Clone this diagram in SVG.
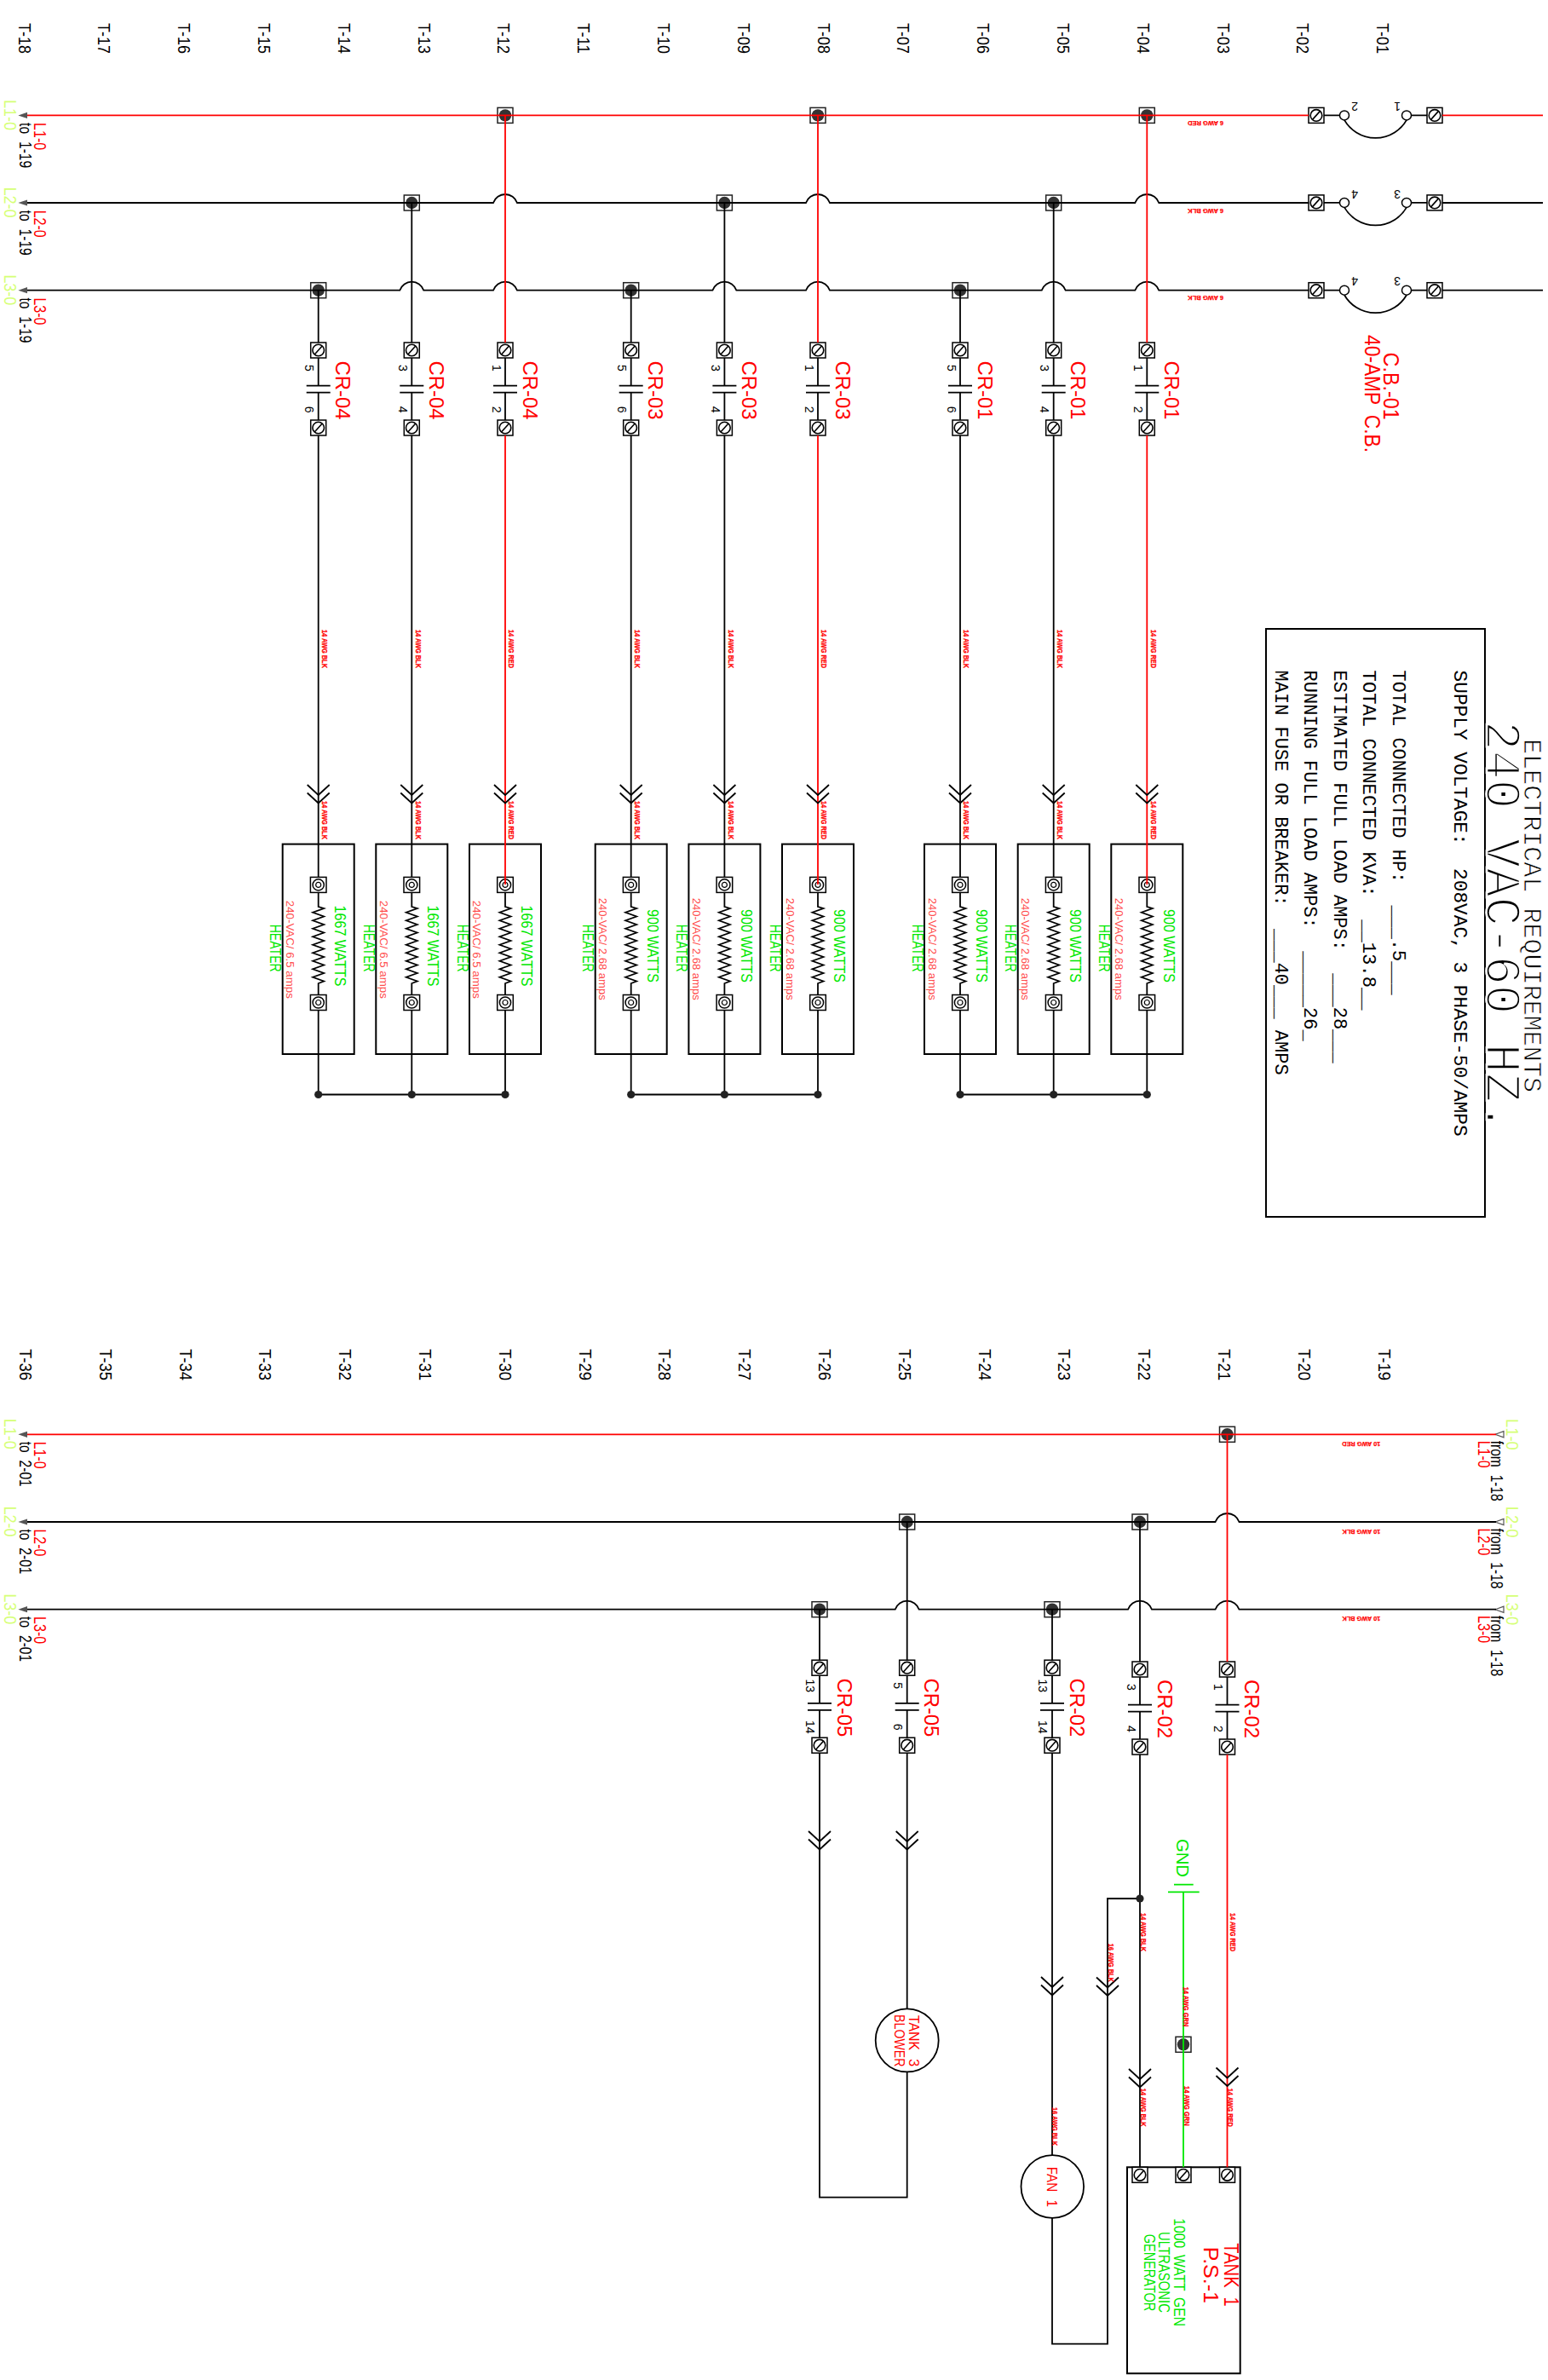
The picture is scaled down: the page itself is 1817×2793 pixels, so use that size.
<svg xmlns="http://www.w3.org/2000/svg" width="1817" height="2793" viewBox="0 0 1817 2793">
<style>
text{font-family:"Liberation Sans",Arial,sans-serif;white-space:pre}
.k{fill:none;stroke:#000;stroke-width:1.8}
.r{fill:none;stroke:#f00;stroke-width:1.8}
.g{fill:none;stroke:#00e800;stroke-width:1.8}
.box{fill:none;stroke:#000;stroke-width:2}
.t{font-size:21px;fill:#000}
.cr{font-size:24px;fill:#f00}
.n{font-size:14px;fill:#000;text-anchor:middle}
.w{font-size:9px;font-weight:bold;fill:#f00;stroke:#f00;stroke-width:.3}
.w6{font-size:8px;font-weight:bold;fill:#f00;stroke:#f00;stroke-width:.25}
.y{font-size:19.5px;fill:#d6ff77}
.lr{font-size:19.5px;fill:#f00}
.lk{font-size:20px;fill:#000;word-spacing:6px}
.wt{font-size:18px;fill:#00e800}
.am{font-size:13px;fill:#ff4d4d}
.m{font-family:"Liberation Mono","Courier New",monospace;font-size:22px;fill:#000}
.m1{font-family:"Liberation Mono","Courier New",monospace;font-size:30px;fill:#000;stroke:#fff;stroke-width:.8}
.m2{font-family:"Liberation Mono","Courier New",monospace;font-size:60px;fill:#000;stroke:#fff;stroke-width:2.6}
.big{font-size:25px;fill:#f00;word-spacing:6px}
.fan{font-size:17px;fill:#f00;word-spacing:6px}
.gg{font-size:17.7px;fill:#00e800;word-spacing:4px}
</style>
<defs>
<g id="tm"><rect x="-9" y="-9" width="18" height="18" fill="#fff" stroke="#000" stroke-width="1.5"/><circle r="6.8" fill="#fff" stroke="#000" stroke-width="1.6"/><path d="M-4.5 5L4.5-5" stroke="#000" stroke-width="1.6"/></g>
<g id="jn"><rect x="-9" y="-9" width="18" height="18" fill="#fff" stroke="#222" stroke-width="1.5"/><circle r="7.2" fill="#333"/></g>
<g id="ht"><rect x="-9.3" y="-9" width="18.6" height="18" fill="#fff" stroke="#000" stroke-width="1.5"/><circle r="6.6" fill="#fff" stroke="#000" stroke-width="1.5"/><circle r="3" fill="none" stroke="#000" stroke-width="1.2"/></g>
<g id="contact"><use href="#tm"/><use href="#tm" y="91"/><path class="k" d="M0 9V41.7M-14 41.7H14M-14 49.7H14M0 49.7V82"/></g>
<g id="heater"><use href="#ht" y="1038.4"/><use href="#ht" y="1176.5"/><path class="k" d="M0 1047.4V1064L6.5 1066l-13 4.75 13 4.75-13 4.75 13 4.75-13 4.75 13 4.75-13 4.75 13 4.75-13 4.75 13 4.75-13 4.75 13 4.75-13 4.75 13 4.75-13 4.75 13 4.75-13 4.75 13 4.75L0 1154V1167.5"/><rect class="box" x="-42" y="990.6" width="84" height="246.4"/></g>
<path id="chev" class="k" d="M-13 0L0 12 13 0M-13 9.5L0 21.5 13 9.5"/>
<g id="cbs"><circle cx="1578" r="5.5" fill="#fff" stroke="#000" stroke-width="1.5"/><circle cx="1651" r="5.5" fill="#fff" stroke="#000" stroke-width="1.5"/><path class="k" d="M1554 0H1572.5M1656.5 0H1675M1578 5.5A42.2 42.2 0 0 0 1651 5.5"/><use href="#tm" x="1545"/><use href="#tm" x="1684"/></g>
<path id="ar" d="M0 0L10.6-3.6V3.6Z" fill="#555"/>
<path id="ah" d="M0 0L10-3.6V3.6Z" fill="#fff" stroke="#555" stroke-width="1.2"/>
</defs>
<rect width="1817" height="2793" fill="#fff"/>

<g id="ladder-numbers">
<g transform="translate(0 27)">
<text class="t" transform="translate(21.5 0)rotate(90)" textLength="36" lengthAdjust="spacingAndGlyphs">T-18</text>
<text class="t" transform="translate(115.3 0)rotate(90)" textLength="36" lengthAdjust="spacingAndGlyphs">T-17</text>
<text class="t" transform="translate(209.1 0)rotate(90)" textLength="36" lengthAdjust="spacingAndGlyphs">T-16</text>
<text class="t" transform="translate(302.9 0)rotate(90)" textLength="36" lengthAdjust="spacingAndGlyphs">T-15</text>
<text class="t" transform="translate(396.7 0)rotate(90)" textLength="36" lengthAdjust="spacingAndGlyphs">T-14</text>
<text class="t" transform="translate(490.5 0)rotate(90)" textLength="36" lengthAdjust="spacingAndGlyphs">T-13</text>
<text class="t" transform="translate(584.3 0)rotate(90)" textLength="36" lengthAdjust="spacingAndGlyphs">T-12</text>
<text class="t" transform="translate(678.1 0)rotate(90)" textLength="36" lengthAdjust="spacingAndGlyphs">T-11</text>
<text class="t" transform="translate(771.9 0)rotate(90)" textLength="36" lengthAdjust="spacingAndGlyphs">T-10</text>
<text class="t" transform="translate(865.7 0)rotate(90)" textLength="36" lengthAdjust="spacingAndGlyphs">T-09</text>
<text class="t" transform="translate(959.5 0)rotate(90)" textLength="36" lengthAdjust="spacingAndGlyphs">T-08</text>
<text class="t" transform="translate(1053.3 0)rotate(90)" textLength="36" lengthAdjust="spacingAndGlyphs">T-07</text>
<text class="t" transform="translate(1147.1 0)rotate(90)" textLength="36" lengthAdjust="spacingAndGlyphs">T-06</text>
<text class="t" transform="translate(1240.9 0)rotate(90)" textLength="36" lengthAdjust="spacingAndGlyphs">T-05</text>
<text class="t" transform="translate(1334.7 0)rotate(90)" textLength="36" lengthAdjust="spacingAndGlyphs">T-04</text>
<text class="t" transform="translate(1428.5 0)rotate(90)" textLength="36" lengthAdjust="spacingAndGlyphs">T-03</text>
<text class="t" transform="translate(1522.3 0)rotate(90)" textLength="36" lengthAdjust="spacingAndGlyphs">T-02</text>
<text class="t" transform="translate(1616.1 0)rotate(90)" textLength="36" lengthAdjust="spacingAndGlyphs">T-01</text>
</g>
<g transform="translate(0 1583)">
<text class="t" transform="translate(22.9 0)rotate(90)" textLength="37" lengthAdjust="spacingAndGlyphs">T-36</text>
<text class="t" transform="translate(116.7 0)rotate(90)" textLength="37" lengthAdjust="spacingAndGlyphs">T-35</text>
<text class="t" transform="translate(210.5 0)rotate(90)" textLength="37" lengthAdjust="spacingAndGlyphs">T-34</text>
<text class="t" transform="translate(304.3 0)rotate(90)" textLength="37" lengthAdjust="spacingAndGlyphs">T-33</text>
<text class="t" transform="translate(398.1 0)rotate(90)" textLength="37" lengthAdjust="spacingAndGlyphs">T-32</text>
<text class="t" transform="translate(491.9 0)rotate(90)" textLength="37" lengthAdjust="spacingAndGlyphs">T-31</text>
<text class="t" transform="translate(585.7 0)rotate(90)" textLength="37" lengthAdjust="spacingAndGlyphs">T-30</text>
<text class="t" transform="translate(679.5 0)rotate(90)" textLength="37" lengthAdjust="spacingAndGlyphs">T-29</text>
<text class="t" transform="translate(773.3 0)rotate(90)" textLength="37" lengthAdjust="spacingAndGlyphs">T-28</text>
<text class="t" transform="translate(867.1 0)rotate(90)" textLength="37" lengthAdjust="spacingAndGlyphs">T-27</text>
<text class="t" transform="translate(960.9 0)rotate(90)" textLength="37" lengthAdjust="spacingAndGlyphs">T-26</text>
<text class="t" transform="translate(1054.7 0)rotate(90)" textLength="37" lengthAdjust="spacingAndGlyphs">T-25</text>
<text class="t" transform="translate(1148.5 0)rotate(90)" textLength="37" lengthAdjust="spacingAndGlyphs">T-24</text>
<text class="t" transform="translate(1242.3 0)rotate(90)" textLength="37" lengthAdjust="spacingAndGlyphs">T-23</text>
<text class="t" transform="translate(1336.1 0)rotate(90)" textLength="37" lengthAdjust="spacingAndGlyphs">T-22</text>
<text class="t" transform="translate(1429.9 0)rotate(90)" textLength="37" lengthAdjust="spacingAndGlyphs">T-21</text>
<text class="t" transform="translate(1523.7 0)rotate(90)" textLength="37" lengthAdjust="spacingAndGlyphs">T-20</text>
<text class="t" transform="translate(1617.5 0)rotate(90)" textLength="37" lengthAdjust="spacingAndGlyphs">T-19</text>
</g>
</g>

<g id="off-page-top-left">
<g id="off-L1-top" transform="translate(0 135.4)"><use href="#ar" x="21.4"/><text class="y" transform="translate(5-18.5)rotate(90)" textLength="36" lengthAdjust="spacingAndGlyphs">L1-0</text><text class="lk" transform="translate(23 8.7)rotate(90)" textLength="53" lengthAdjust="spacingAndGlyphs">to 1-19</text><text class="lr" transform="translate(40 8.7)rotate(90)" textLength="32" lengthAdjust="spacingAndGlyphs">L1-0</text></g>
<g id="off-L2-top" transform="translate(0 238)"><use href="#ar" x="21.4"/><text class="y" transform="translate(5-18.5)rotate(90)" textLength="36" lengthAdjust="spacingAndGlyphs">L2-0</text><text class="lk" transform="translate(23 8.7)rotate(90)" textLength="53" lengthAdjust="spacingAndGlyphs">to 1-19</text><text class="lr" transform="translate(40 8.7)rotate(90)" textLength="32" lengthAdjust="spacingAndGlyphs">L2-0</text></g>
<g id="off-L3-top" transform="translate(0 340.7)"><use href="#ar" x="21.4"/><text class="y" transform="translate(5-18.5)rotate(90)" textLength="36" lengthAdjust="spacingAndGlyphs">L3-0</text><text class="lk" transform="translate(23 8.7)rotate(90)" textLength="53" lengthAdjust="spacingAndGlyphs">to 1-19</text><text class="lr" transform="translate(40 8.7)rotate(90)" textLength="32" lengthAdjust="spacingAndGlyphs">L3-0</text></g>
<g id="off-L1-bot" transform="translate(0 1683.3)"><use href="#ar" x="21.4"/><text class="y" transform="translate(5-18.5)rotate(90)" textLength="36" lengthAdjust="spacingAndGlyphs">L1-0</text><text class="lk" transform="translate(23 8.4)rotate(90)" textLength="53" lengthAdjust="spacingAndGlyphs">to 2-01</text><text class="lr" transform="translate(40 8.4)rotate(90)" textLength="32" lengthAdjust="spacingAndGlyphs">L1-0</text></g>
<g id="off-L2-bot" transform="translate(0 1786)"><use href="#ar" x="21.4"/><text class="y" transform="translate(5-18.5)rotate(90)" textLength="36" lengthAdjust="spacingAndGlyphs">L2-0</text><text class="lk" transform="translate(23 8.4)rotate(90)" textLength="53" lengthAdjust="spacingAndGlyphs">to 2-01</text><text class="lr" transform="translate(40 8.4)rotate(90)" textLength="32" lengthAdjust="spacingAndGlyphs">L2-0</text></g>
<g id="off-L3-bot" transform="translate(0 1888.7)"><use href="#ar" x="21.4"/><text class="y" transform="translate(5-18.5)rotate(90)" textLength="36" lengthAdjust="spacingAndGlyphs">L3-0</text><text class="lk" transform="translate(23 8.4)rotate(90)" textLength="53" lengthAdjust="spacingAndGlyphs">to 2-01</text><text class="lr" transform="translate(40 8.4)rotate(90)" textLength="32" lengthAdjust="spacingAndGlyphs">L3-0</text></g>
<g id="off-L1-from" transform="translate(0 1683.3)"><use href="#ah" x="1755"/><text class="y" transform="translate(1768.4-18.3)rotate(90)" textLength="36.7" lengthAdjust="spacingAndGlyphs">L1-0</text><text class="lk" transform="translate(1750 7.4)rotate(90)" textLength="71" lengthAdjust="spacingAndGlyphs">from 1-18</text><text class="lr" transform="translate(1735.4 7.4)rotate(90)" textLength="32" lengthAdjust="spacingAndGlyphs">L1-0</text></g>
<g id="off-L2-from" transform="translate(0 1786)"><use href="#ah" x="1755"/><text class="y" transform="translate(1768.4-18.3)rotate(90)" textLength="36.7" lengthAdjust="spacingAndGlyphs">L2-0</text><text class="lk" transform="translate(1750 7.4)rotate(90)" textLength="71" lengthAdjust="spacingAndGlyphs">from 1-18</text><text class="lr" transform="translate(1735.4 7.4)rotate(90)" textLength="32" lengthAdjust="spacingAndGlyphs">L2-0</text></g>
<g id="off-L3-from" transform="translate(0 1888.7)"><use href="#ah" x="1755"/><text class="y" transform="translate(1768.4-18.3)rotate(90)" textLength="36.7" lengthAdjust="spacingAndGlyphs">L3-0</text><text class="lk" transform="translate(1750 7.4)rotate(90)" textLength="71" lengthAdjust="spacingAndGlyphs">from 1-18</text><text class="lr" transform="translate(1735.4 7.4)rotate(90)" textLength="32" lengthAdjust="spacingAndGlyphs">L3-0</text></g>
</g>

<g id="cb-01">
<g transform="translate(0 135.4)"><use href="#cbs"/><text class="n" transform="translate(1590-15.4)rotate(180)">2</text><text class="n" transform="translate(1640-15.4)rotate(180)">1</text></g>
<g transform="translate(0 237.9)"><use href="#cbs"/><text class="n" transform="translate(1590-15.4)rotate(180)">4</text><text class="n" transform="translate(1640-15.4)rotate(180)">3</text></g>
<g transform="translate(0 340.7)"><use href="#cbs"/><text class="n" transform="translate(1590-15.4)rotate(180)">4</text><text class="n" transform="translate(1640-15.4)rotate(180)">3</text></g>
<text class="big" transform="translate(1623.7 413.6)rotate(90)" textLength="79" lengthAdjust="spacingAndGlyphs">C.B.-01</text>
<text class="big" transform="translate(1602 393)rotate(90)" textLength="138" lengthAdjust="spacingAndGlyphs">40-AMP C.B.</text>
</g>

<g id="contacts-top">
<g id="cr-04-5-6" transform="translate(373.7 411)"><use href="#contact"/><text class="n" transform="translate(-15.5 21)rotate(90)">5</text><text class="n" transform="translate(-15.5 69.7)rotate(90)">6</text><text class="cr" transform="translate(20.5 12.5)rotate(90)" textLength="69" lengthAdjust="spacingAndGlyphs">CR-04</text></g>
<g id="cr-04-3-4" transform="translate(483.3 411)"><use href="#contact"/><text class="n" transform="translate(-15.5 21)rotate(90)">3</text><text class="n" transform="translate(-15.5 69.7)rotate(90)">4</text><text class="cr" transform="translate(20.5 12.5)rotate(90)" textLength="69" lengthAdjust="spacingAndGlyphs">CR-04</text></g>
<g id="cr-04-1-2" transform="translate(593 411)"><use href="#contact"/><text class="n" transform="translate(-15.5 21)rotate(90)">1</text><text class="n" transform="translate(-15.5 69.7)rotate(90)">2</text><text class="cr" transform="translate(20.5 12.5)rotate(90)" textLength="69" lengthAdjust="spacingAndGlyphs">CR-04</text></g>
<g id="cr-03-5-6" transform="translate(740.7 411)"><use href="#contact"/><text class="n" transform="translate(-15.5 21)rotate(90)">5</text><text class="n" transform="translate(-15.5 69.7)rotate(90)">6</text><text class="cr" transform="translate(20.5 12.5)rotate(90)" textLength="69" lengthAdjust="spacingAndGlyphs">CR-03</text></g>
<g id="cr-03-3-4" transform="translate(850.4 411)"><use href="#contact"/><text class="n" transform="translate(-15.5 21)rotate(90)">3</text><text class="n" transform="translate(-15.5 69.7)rotate(90)">4</text><text class="cr" transform="translate(20.5 12.5)rotate(90)" textLength="69" lengthAdjust="spacingAndGlyphs">CR-03</text></g>
<g id="cr-03-1-2" transform="translate(960 411)"><use href="#contact"/><text class="n" transform="translate(-15.5 21)rotate(90)">1</text><text class="n" transform="translate(-15.5 69.7)rotate(90)">2</text><text class="cr" transform="translate(20.5 12.5)rotate(90)" textLength="69" lengthAdjust="spacingAndGlyphs">CR-03</text></g>
<g id="cr-01-5-6" transform="translate(1127 411)"><use href="#contact"/><text class="n" transform="translate(-15.5 21)rotate(90)">5</text><text class="n" transform="translate(-15.5 69.7)rotate(90)">6</text><text class="cr" transform="translate(20.5 12.5)rotate(90)" textLength="69" lengthAdjust="spacingAndGlyphs">CR-01</text></g>
<g id="cr-01-3-4" transform="translate(1236.7 411)"><use href="#contact"/><text class="n" transform="translate(-15.5 21)rotate(90)">3</text><text class="n" transform="translate(-15.5 69.7)rotate(90)">4</text><text class="cr" transform="translate(20.5 12.5)rotate(90)" textLength="69" lengthAdjust="spacingAndGlyphs">CR-01</text></g>
<g id="cr-01-1-2" transform="translate(1346.3 411)"><use href="#contact"/><text class="n" transform="translate(-15.5 21)rotate(90)">1</text><text class="n" transform="translate(-15.5 69.7)rotate(90)">2</text><text class="cr" transform="translate(20.5 12.5)rotate(90)" textLength="69" lengthAdjust="spacingAndGlyphs">CR-01</text></g>
</g>

<g id="contacts-bottom">
<g id="cr-05-13-14" transform="translate(962 1957.2)"><use href="#contact"/><text class="n" transform="translate(-16 21)rotate(90)">13</text><text class="n" transform="translate(-16 69.5)rotate(90)">14</text><text class="cr" transform="translate(20.5 12.2)rotate(90)" textLength="69" lengthAdjust="spacingAndGlyphs">CR-05</text></g>
<g id="cr-05-5-6" transform="translate(1064.7 1957.2)"><use href="#contact"/><text class="n" transform="translate(-15.5 21)rotate(90)">5</text><text class="n" transform="translate(-15.5 69.5)rotate(90)">6</text><text class="cr" transform="translate(20.5 12.2)rotate(90)" textLength="69" lengthAdjust="spacingAndGlyphs">CR-05</text></g>
<g id="cr-02-13-14" transform="translate(1235 1957.2)"><use href="#contact"/><text class="n" transform="translate(-16 21)rotate(90)">13</text><text class="n" transform="translate(-16 69.5)rotate(90)">14</text><text class="cr" transform="translate(20.5 12.2)rotate(90)" textLength="69" lengthAdjust="spacingAndGlyphs">CR-02</text></g>
<g id="cr-02-3-4" transform="translate(1338 1959)"><use href="#contact"/><text class="n" transform="translate(-15.5 21)rotate(90)">3</text><text class="n" transform="translate(-15.5 70)rotate(90)">4</text><text class="cr" transform="translate(20.5 12)rotate(90)" textLength="69" lengthAdjust="spacingAndGlyphs">CR-02</text></g>
<g id="cr-02-1-2" transform="translate(1440.5 1959)"><use href="#contact"/><text class="n" transform="translate(-15.5 21)rotate(90)">1</text><text class="n" transform="translate(-15.5 70)rotate(90)">2</text><text class="cr" transform="translate(20.5 12)rotate(90)" textLength="69" lengthAdjust="spacingAndGlyphs">CR-02</text></g>
</g>

<g id="heaters">
<g id="heater-14" transform="translate(373.7 0)"><use href="#heater"/><text class="wt" transform="translate(18.8 1062.5)rotate(90)" textLength="95" lengthAdjust="spacingAndGlyphs">1667 WATTS</text><text class="am" transform="translate(-37.6 1056.8)rotate(90)" textLength="115" lengthAdjust="spacingAndGlyphs">240-VAC/ 6.5 amps</text><text class="wt" transform="translate(-56.3 1084.7)rotate(90)" textLength="56" lengthAdjust="spacingAndGlyphs">HEATER</text></g>
<g id="heater-13" transform="translate(483.3 0)"><use href="#heater"/><text class="wt" transform="translate(18.8 1062.5)rotate(90)" textLength="95" lengthAdjust="spacingAndGlyphs">1667 WATTS</text><text class="am" transform="translate(-37.6 1056.8)rotate(90)" textLength="115" lengthAdjust="spacingAndGlyphs">240-VAC/ 6.5 amps</text><text class="wt" transform="translate(-56.3 1084.7)rotate(90)" textLength="56" lengthAdjust="spacingAndGlyphs">HEATER</text></g>
<g id="heater-12" transform="translate(593 0)"><use href="#heater"/><text class="wt" transform="translate(18.8 1062.5)rotate(90)" textLength="95" lengthAdjust="spacingAndGlyphs">1667 WATTS</text><text class="am" transform="translate(-37.6 1056.8)rotate(90)" textLength="115" lengthAdjust="spacingAndGlyphs">240-VAC/ 6.5 amps</text><text class="wt" transform="translate(-56.3 1084.7)rotate(90)" textLength="56" lengthAdjust="spacingAndGlyphs">HEATER</text></g>
<g id="heater-10" transform="translate(740.7 0)"><use href="#heater"/><text class="wt" transform="translate(19.2 1067)rotate(90)" textLength="86" lengthAdjust="spacingAndGlyphs">900 WATTS</text><text class="am" transform="translate(-37.5 1053.7)rotate(90)" textLength="120" lengthAdjust="spacingAndGlyphs">240-VAC/ 2.68 amps</text><text class="wt" transform="translate(-56.3 1084.7)rotate(90)" textLength="56" lengthAdjust="spacingAndGlyphs">HEATER</text></g>
<g id="heater-09" transform="translate(850.4 0)"><use href="#heater"/><text class="wt" transform="translate(19.2 1067)rotate(90)" textLength="86" lengthAdjust="spacingAndGlyphs">900 WATTS</text><text class="am" transform="translate(-37.5 1053.7)rotate(90)" textLength="120" lengthAdjust="spacingAndGlyphs">240-VAC/ 2.68 amps</text><text class="wt" transform="translate(-56.3 1084.7)rotate(90)" textLength="56" lengthAdjust="spacingAndGlyphs">HEATER</text></g>
<g id="heater-08" transform="translate(960 0)"><use href="#heater"/><text class="wt" transform="translate(19.2 1067)rotate(90)" textLength="86" lengthAdjust="spacingAndGlyphs">900 WATTS</text><text class="am" transform="translate(-37.5 1053.7)rotate(90)" textLength="120" lengthAdjust="spacingAndGlyphs">240-VAC/ 2.68 amps</text><text class="wt" transform="translate(-56.3 1084.7)rotate(90)" textLength="56" lengthAdjust="spacingAndGlyphs">HEATER</text></g>
<g id="heater-06" transform="translate(1127 0)"><use href="#heater"/><text class="wt" transform="translate(19.2 1067)rotate(90)" textLength="86" lengthAdjust="spacingAndGlyphs">900 WATTS</text><text class="am" transform="translate(-37.5 1053.7)rotate(90)" textLength="120" lengthAdjust="spacingAndGlyphs">240-VAC/ 2.68 amps</text><text class="wt" transform="translate(-56.3 1084.7)rotate(90)" textLength="56" lengthAdjust="spacingAndGlyphs">HEATER</text></g>
<g id="heater-05" transform="translate(1236.7 0)"><use href="#heater"/><text class="wt" transform="translate(19.2 1067)rotate(90)" textLength="86" lengthAdjust="spacingAndGlyphs">900 WATTS</text><text class="am" transform="translate(-37.5 1053.7)rotate(90)" textLength="120" lengthAdjust="spacingAndGlyphs">240-VAC/ 2.68 amps</text><text class="wt" transform="translate(-56.3 1084.7)rotate(90)" textLength="56" lengthAdjust="spacingAndGlyphs">HEATER</text></g>
<g id="heater-04" transform="translate(1346.3 0)"><use href="#heater"/><text class="wt" transform="translate(19.2 1067)rotate(90)" textLength="86" lengthAdjust="spacingAndGlyphs">900 WATTS</text><text class="am" transform="translate(-37.5 1053.7)rotate(90)" textLength="120" lengthAdjust="spacingAndGlyphs">240-VAC/ 2.68 amps</text><text class="wt" transform="translate(-56.3 1084.7)rotate(90)" textLength="56" lengthAdjust="spacingAndGlyphs">HEATER</text></g>
</g>

<g id="electrical-requirements">
<rect class="box" x="1486" y="738" width="257" height="690"/>
<text class="m1" transform="translate(1789.3 867)rotate(90)" textLength="415" lengthAdjust="spacingAndGlyphs">ELECTRICAL REQUIREMENTS</text>
<text class="m2" transform="translate(1745 846)rotate(90)" textLength="482" lengthAdjust="spacingAndGlyphs">240 VAC-60 HZ.</text>
<text class="m" transform="translate(1707 786.6)rotate(90)" textLength="547" lengthAdjust="spacingAndGlyphs">SUPPLY VOLTAGE:  208VAC, 3 PHASE-50/AMPS</text>
<text class="m" transform="translate(1634.7 786.6)rotate(90)" textLength="381" lengthAdjust="spacingAndGlyphs">TOTAL CONNECTED HP:  ___.5___</text>
<text class="m" transform="translate(1600.3 786.6)rotate(90)" textLength="399" lengthAdjust="spacingAndGlyphs">TOTAL CONNECTED KVA:  __13.8__</text>
<text class="m" transform="translate(1566.3 786.6)rotate(90)" textLength="461" lengthAdjust="spacingAndGlyphs">ESTIMATED FULL LOAD AMPS:  ___28___</text>
<text class="m" transform="translate(1531.3 786.6)rotate(90)" textLength="435" lengthAdjust="spacingAndGlyphs">RUNNING FULL LOAD AMPS:  _____26_</text>
<text class="m" transform="translate(1497 786.6)rotate(90)" textLength="475" lengthAdjust="spacingAndGlyphs">MAIN FUSE OR BREAKER:  ___40___ AMPS</text>
</g>

<g id="tank-3-blower">
<circle cx="1064.7" cy="2394.4" r="37" fill="none" stroke="#000" stroke-width="1.8"/>
<text class="fan" transform="translate(1067 2365)rotate(90)" textLength="60" lengthAdjust="spacingAndGlyphs">TANK 3</text>
<text class="fan" transform="translate(1050 2364)rotate(90)" textLength="61.6" lengthAdjust="spacingAndGlyphs">BLOWER</text>
</g>
<g id="fan-1">
<circle cx="1235.3" cy="2566" r="36.8" fill="none" stroke="#000" stroke-width="1.8"/>
<text class="fan" transform="translate(1229 2542.7)rotate(90)" textLength="47.3" lengthAdjust="spacingAndGlyphs">FAN 1</text>
</g>
<g id="ps-1">
<rect class="box" x="1323" y="2543.3" width="132.7" height="242"/>
<use href="#tm" x="1338" y="2552.3"/><use href="#tm" x="1389" y="2552.3"/><use href="#tm" x="1440.5" y="2552.3"/>
<text class="big" style="font-size:23px" transform="translate(1436.7 2632.3)rotate(90)" textLength="74.4" lengthAdjust="spacingAndGlyphs">TANK 1</text>
<text class="big" style="font-size:23px" transform="translate(1413.4 2636.7)rotate(90)" textLength="66.3" lengthAdjust="spacingAndGlyphs">P.S.-1</text>
<text class="gg" transform="translate(1377.7 2603.3)rotate(90)" textLength="126.7" lengthAdjust="spacingAndGlyphs">1000 WATT GEN</text>
<text class="gg" transform="translate(1360.4 2619)rotate(90)" textLength="95" lengthAdjust="spacingAndGlyphs">ULTRASONIC</text>
<text class="gg" transform="translate(1342.7 2621.7)rotate(90)" textLength="90.6" lengthAdjust="spacingAndGlyphs">GENERATOR</text>
</g>
<g id="gnd">
<path class="g" d="M1378 2211.7H1400.7M1371 2220.3H1407.7"/>
<text class="t" style="fill:#00e800" transform="translate(1380.5 2158)rotate(90)" textLength="45" lengthAdjust="spacingAndGlyphs">GND</text>
</g>

<g id="junctions">
<use href="#jn" x="593" y="135.4"/><use href="#jn" x="960" y="135.4"/><use href="#jn" x="1346.3" y="135.4"/>
<use href="#jn" x="483.3" y="238"/><use href="#jn" x="850.4" y="238"/><use href="#jn" x="1236.7" y="238"/>
<use href="#jn" x="373.7" y="340.7"/><use href="#jn" x="740.7" y="340.7"/><use href="#jn" x="1127" y="340.7"/>
<use href="#jn" x="1440.5" y="1683.3"/><use href="#jn" x="1064.7" y="1786"/><use href="#jn" x="1338" y="1786"/>
<use href="#jn" x="962" y="1888.7"/><use href="#jn" x="1235" y="1888.7"/>
<use href="#jn" x="1389" y="2399.3"/>
</g>

<g id="connectors">
<path class="r" d="M32 135.4H1536M1693 135.4H1811"/>
<path class="k" d="M32 238H579a14.8 14.8 0 0 1 28 0H946a14.8 14.8 0 0 1 28 0H1332.3a14.8 14.8 0 0 1 28 0H1536M1693 238H1811"/>
<path class="k" d="M32 340.7H469.3a14.8 14.8 0 0 1 28 0H579a14.8 14.8 0 0 1 28 0H836.4a14.8 14.8 0 0 1 28 0H946a14.8 14.8 0 0 1 28 0H1222.7a14.8 14.8 0 0 1 28 0H1332.3a14.8 14.8 0 0 1 28 0H1536M1693 340.7H1811"/>
<path class="r" d="M32 1683.3H1756"/>
<path class="k" d="M32 1786H1426.5a14.8 14.8 0 0 1 28 0H1756"/>
<path class="k" d="M32 1888.7H1050.7a14.8 14.8 0 0 1 28 0H1324a14.8 14.8 0 0 1 28 0H1426.5a14.8 14.8 0 0 1 28 0H1756"/>
<path class="r" d="M593 135.4V402M593 511V1038M960 135.4V402M960 511V1038M1346.3 135.4V402M1346.3 511V1038M1440.5 1683.3V1950M1440.5 2059V2543.3"/>
<path class="k" d="M373.7 340.7V402M373.7 511V1029.4M373.7 1185.5V1284.5M483.3 238V402M483.3 511V1029.4M483.3 1185.5V1284.5M593 1185.5V1284.5M740.7 340.7V402M740.7 511V1029.4M740.7 1185.5V1284.5M850.4 238V402M850.4 511V1029.4M850.4 1185.5V1284.5M960 1185.5V1284.5M1127 340.7V402M1127 511V1029.4M1127 1185.5V1284.5M1236.7 238V402M1236.7 511V1029.4M1236.7 1185.5V1284.5M1346.3 1185.5V1284.5"/>
<path class="k" d="M373.7 1284.5H593M740.7 1284.5H960M1127 1284.5H1346.3"/>
<path class="k" d="M962 1888.7V1948.2M962 2057.2V2578.6H1064.7V2431.4M1064.7 2357.4V2057.2M1064.7 1948.2V1786M1235 1888.7V1948.2M1235 2057.2V2529.2M1235 2602.8V2750.7H1300V2228H1338M1338 1786V1950M1338 2059V2543.3"/>
<path class="g" d="M1389 2220.3V2543.3"/>
<g fill="#222"><circle cx="373.7" cy="1284.5" r="4.6"/><circle cx="483.3" cy="1284.5" r="4.6"/><circle cx="593" cy="1284.5" r="4.6"/><circle cx="740.7" cy="1284.5" r="4.6"/><circle cx="850.4" cy="1284.5" r="4.6"/><circle cx="960" cy="1284.5" r="4.6"/><circle cx="1127" cy="1284.5" r="4.6"/><circle cx="1236.7" cy="1284.5" r="4.6"/><circle cx="1346.3" cy="1284.5" r="4.6"/><circle cx="1338" cy="2228" r="4.6"/></g>
<use href="#chev" x="373.7" y="921"/><use href="#chev" x="483.3" y="921"/><use href="#chev" x="593" y="921"/><use href="#chev" x="740.7" y="921"/><use href="#chev" x="850.4" y="921"/><use href="#chev" x="960" y="921"/><use href="#chev" x="1127" y="921"/><use href="#chev" x="1236.7" y="921"/><use href="#chev" x="1346.3" y="921"/>
<use href="#chev" x="962" y="2149"/><use href="#chev" x="1064.7" y="2149"/><use href="#chev" x="1235" y="2320"/><use href="#chev" x="1300" y="2320.5"/><use href="#chev" x="1338" y="2428"/><use href="#chev" x="1440.5" y="2426.5"/>

<g id="wire-labels">
<text class="w6" transform="translate(1436 142)rotate(180)" textLength="42" lengthAdjust="spacingAndGlyphs">6 AWG RED</text>
<text class="w6" transform="translate(1436 244.5)rotate(180)" textLength="42" lengthAdjust="spacingAndGlyphs">6 AWG BLK</text>
<text class="w6" transform="translate(1436 347)rotate(180)" textLength="42" lengthAdjust="spacingAndGlyphs">6 AWG BLK</text>
<text class="w6" transform="translate(1620.3 1692)rotate(180)" textLength="45" lengthAdjust="spacingAndGlyphs">10 AWG RED</text>
<text class="w6" transform="translate(1620.3 1794.7)rotate(180)" textLength="45" lengthAdjust="spacingAndGlyphs">10 AWG BLK</text>
<text class="w6" transform="translate(1620.3 1897.4)rotate(180)" textLength="45" lengthAdjust="spacingAndGlyphs">10 AWG BLK</text>
<text class="w" transform="translate(378 739)rotate(90)" textLength="45" lengthAdjust="spacingAndGlyphs">14 AWG BLK</text>
<text class="w" transform="translate(378 940)rotate(90)" textLength="45" lengthAdjust="spacingAndGlyphs">14 AWG BLK</text>
<text class="w" transform="translate(487.6 739)rotate(90)" textLength="45" lengthAdjust="spacingAndGlyphs">14 AWG BLK</text>
<text class="w" transform="translate(487.6 940)rotate(90)" textLength="45" lengthAdjust="spacingAndGlyphs">14 AWG BLK</text>
<text class="w" transform="translate(597.3 739)rotate(90)" textLength="45" lengthAdjust="spacingAndGlyphs">14 AWG RED</text>
<text class="w" transform="translate(597.3 940)rotate(90)" textLength="45" lengthAdjust="spacingAndGlyphs">14 AWG RED</text>
<text class="w" transform="translate(745 739)rotate(90)" textLength="45" lengthAdjust="spacingAndGlyphs">14 AWG BLK</text>
<text class="w" transform="translate(745 940)rotate(90)" textLength="45" lengthAdjust="spacingAndGlyphs">14 AWG BLK</text>
<text class="w" transform="translate(854.7 739)rotate(90)" textLength="45" lengthAdjust="spacingAndGlyphs">14 AWG BLK</text>
<text class="w" transform="translate(854.7 940)rotate(90)" textLength="45" lengthAdjust="spacingAndGlyphs">14 AWG BLK</text>
<text class="w" transform="translate(964.3 739)rotate(90)" textLength="45" lengthAdjust="spacingAndGlyphs">14 AWG RED</text>
<text class="w" transform="translate(964.3 940)rotate(90)" textLength="45" lengthAdjust="spacingAndGlyphs">14 AWG RED</text>
<text class="w" transform="translate(1131.3 739)rotate(90)" textLength="45" lengthAdjust="spacingAndGlyphs">14 AWG BLK</text>
<text class="w" transform="translate(1131.3 940)rotate(90)" textLength="45" lengthAdjust="spacingAndGlyphs">14 AWG BLK</text>
<text class="w" transform="translate(1241 739)rotate(90)" textLength="45" lengthAdjust="spacingAndGlyphs">14 AWG BLK</text>
<text class="w" transform="translate(1241 940)rotate(90)" textLength="45" lengthAdjust="spacingAndGlyphs">14 AWG BLK</text>
<text class="w" transform="translate(1350.6 739)rotate(90)" textLength="45" lengthAdjust="spacingAndGlyphs">14 AWG RED</text>
<text class="w" transform="translate(1350.6 940)rotate(90)" textLength="45" lengthAdjust="spacingAndGlyphs">14 AWG RED</text>
<text class="w" transform="translate(1339.3 2245)rotate(90)" textLength="45" lengthAdjust="spacingAndGlyphs">14 AWG BLK</text>
<text class="w" transform="translate(1339.3 2450.7)rotate(90)" textLength="45" lengthAdjust="spacingAndGlyphs">14 AWG BLK</text>
<text class="w" transform="translate(1444 2245)rotate(90)" textLength="45" lengthAdjust="spacingAndGlyphs">14 AWG RED</text>
<text class="w" transform="translate(1441 2450.7)rotate(90)" textLength="45" lengthAdjust="spacingAndGlyphs">14 AWG RED</text>
<text class="w" transform="translate(1388.8 2331.7)rotate(90)" textLength="46.6" lengthAdjust="spacingAndGlyphs">14 AWG GRN</text>
<text class="w" transform="translate(1389.5 2448)rotate(90)" textLength="46.6" lengthAdjust="spacingAndGlyphs">14 AWG GRN</text>
<text class="w" transform="translate(1300.8 2280.7)rotate(90)" textLength="45.3" lengthAdjust="spacingAndGlyphs">16 AWG BLK</text>
<text class="w" transform="translate(1235.3 2473)rotate(90)" textLength="45" lengthAdjust="spacingAndGlyphs">16 AWG BLK</text>
</g>
</g>
</svg>
